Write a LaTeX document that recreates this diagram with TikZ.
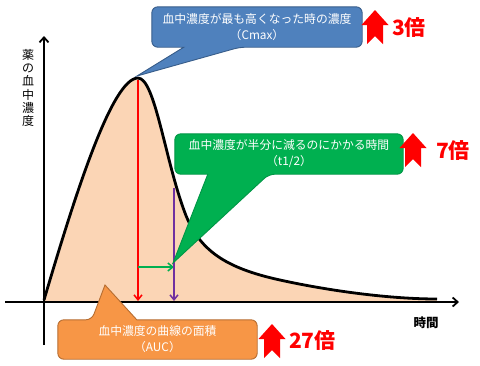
\documentclass[tikz,border=0pt]{standalone}
\usepackage{fontspec}
\setmainfont{Noto Sans CJK JP}
\usetikzlibrary{arrows.meta,calc}
\definecolor{peach}{RGB}{251,213,181}
\definecolor{cblue}{RGB}{79,129,189}
\definecolor{cblueb}{RGB}{56,93,138}
\definecolor{cgreen}{RGB}{0,176,80}
\definecolor{cgreenb}{RGB}{0,150,70}
\definecolor{corange}{RGB}{247,150,70}
\definecolor{coranb}{RGB}{182,109,49}
\definecolor{cpurple}{RGB}{112,48,160}
\definecolor{cred}{RGB}{255,0,0}
\tikzset{
  axisline/.style={line width=1.8pt,-{Straight Barb[length=5pt,width=9pt]}},
  curveline/.style={line width=2.8pt,line join=round},
  marker/.style={line width=1.5pt,-{Straight Barb[length=5pt,width=8pt]}},
  boxph/.style={rectangle,inner sep=0pt,minimum width=#1},
  ctext/.style={text=white,align=center,font=\fontsize{11.8}{16}\selectfont,inner sep=0pt},
  cshape/.style={fill=#1,line width=0.9pt},
  bigtxt/.style={text=cred,font=\fontsize{21}{23}\selectfont\bfseries,inner sep=0pt,anchor=west},
  uparrow/.pic={\fill[cred] (-13.5,15) -- (0,0) -- (13.5,15) -- (8,15) -- (8,34) -- (0,26) -- (-8,34) -- (-8,15) -- cycle;}
}
\newcommand{\pkcurve}{(44,300) .. controls (75,195) and (112,78) .. (138,78) .. controls (155,78) and (165,160) .. (185,213) .. controls (199,250) and (225,268) .. (280,280) .. controls (330,291) and (390,299) .. (437,299)}
\begin{document}
\begin{tikzpicture}[x=1pt,y=-1pt]
\useasboundingbox (0,0) rectangle (480,365);
% area under curve
\fill[peach] \pkcurve -- (437,302) -- (44,302) -- cycle;
% axes
\coordinate (xs) at (5,302);
\coordinate (xe) at (459,302);
\coordinate (ys) at (44,345);
\coordinate (ye) at (44,36);
\draw[axisline] (xs) -- (xe);
\draw[axisline] (ys) -- (ye);
% curve
\draw[curveline] \pkcurve;
% markers
\coordinate (peak) at (138,80);
\coordinate (peakfoot) at (138,301);
\coordinate (gs) at (138,267);
\coordinate (ge) at (174,267);
\coordinate (ptop) at (174,188);
\coordinate (pfoot) at (174,301);
\draw[marker,cred] (peak) -- (peakfoot);
\draw[marker,cgreen] (gs) -- (ge);
\draw[marker,cpurple] (ptop) -- (pfoot);
% axis labels
\node[align=center,font=\fontsize{12}{13.2}\selectfont,inner sep=0pt] (ylab) at (28,88) {薬\\の\\血\\中\\濃\\度};
\node[font=\fontsize{12.5}{14}\selectfont\bfseries,inner sep=0pt] (xlab) at (426,323) {時間};
% callout 1
\node[boxph=210pt,minimum height=40pt] (c1) at (257,27) {};
\coordinate (tip1) at (137,76);
\draw[cshape=cblue,draw=cblueb] (c1.north) [rounded corners=6pt] -- (c1.north east) -- (c1.south east) -- ($(c1.south west)+(88,0)$) [sharp corners] -- (tip1) -- ($(c1.south west)+(32,0)$) [rounded corners=6pt] -- (c1.south west) -- (c1.north west) -- cycle;
\node[ctext] (c1t) at (c1) {血中濃度が最も高くなった時の濃度\\（Cmax）};
% callout 2
\node[boxph=228pt,minimum height=40pt] (c2) at (289,154) {};
\coordinate (tip2) at (173,263);
\draw[cshape=cgreen,draw=cgreenb] (c2.north) [rounded corners=6pt] -- (c2.north east) -- (c2.south east) -- ($(c2.south west)+(94,0)$) [sharp corners] -- (tip2) -- ($(c2.south west)+(33,0)$) [rounded corners=6pt] -- (c2.south west) -- (c2.north west) -- cycle;
\node[ctext] (c2t) at (c2) {血中濃度が半分に減るのにかかる時間\\（t1/2）};
% callout 3
\node[boxph=199pt,minimum height=39pt] (c3) at (157.5,339.5) {};
\coordinate (tip3) at (105,285);
\draw[cshape=corange,draw=coranb] (c3.south) [rounded corners=6pt] -- (c3.south west) -- (c3.north west) -- ($(c3.north west)+(34,0)$) [sharp corners] -- (tip3) -- ($(c3.north west)+(79,0)$) [rounded corners=6pt] -- (c3.north east) -- (c3.south east) -- cycle;
\node[ctext] (c3t) at (c3) {血中濃度の曲線の面積\\（AUC）};
% up arrows and factors
\pic at (375,10) {uparrow};
\node[bigtxt] (f1) at (392,28) {3倍};
\pic at (413,133) {uparrow};
\node[bigtxt] (f2) at (436,151) {7倍};
\pic at (272,324) {uparrow};
\node[bigtxt] (f3) at (289,341) {27倍};
\end{tikzpicture}
\end{document}
